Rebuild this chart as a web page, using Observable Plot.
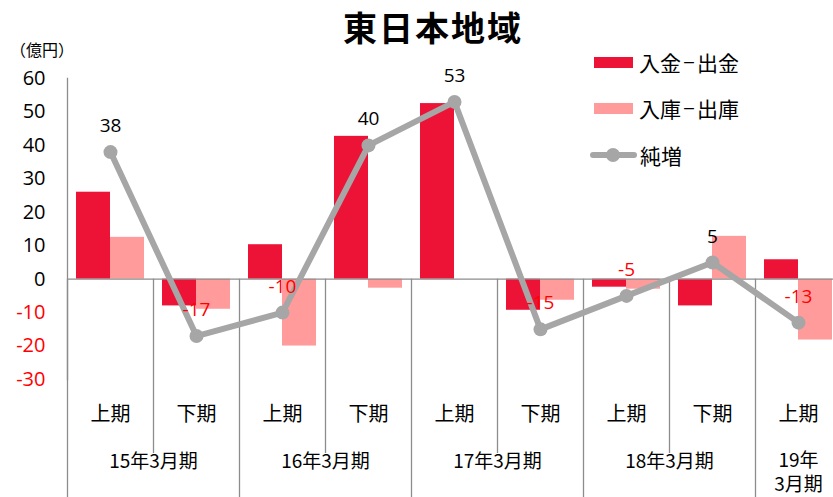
<!DOCTYPE html>
<html><head><meta charset="utf-8">
<script src="https://cdn.jsdelivr.net/npm/d3@7"></script>
<script src="https://cdn.jsdelivr.net/npm/@observablehq/plot@0.6"></script>
<style>
html,body{margin:0;padding:0;background:#fff;overflow:hidden}
#wrap{position:relative;width:833px;height:497px;font-family:"Noto Sans CJK JP","Open Sans",sans-serif;color:#000}
#title{position:absolute;left:328px;top:2px;width:210px;text-align:center;font-size:34px;font-weight:bold;letter-spacing:2px;line-height:50px}
#unit{position:absolute;left:10px;top:38px;font-size:16px;line-height:22px}
.leg{position:absolute;left:590px;font-size:21px;line-height:28px;height:28px;display:flex;align-items:center;white-space:nowrap}
.sw{display:inline-block;width:39px;height:11px;margin-left:4px;margin-right:6px}
.dash{font-family:"Open Sans",sans-serif;margin:0 2px}
#chart{position:absolute;left:0;top:0}
</style>
</head><body>
<div id="wrap">
  <div id="chart"></div>
  <div id="title">東日本地域</div>
  <div id="unit">（億円）</div>
  <div class="leg" style="top:48px"><span class="sw" style="background:#EC1337"></span>入金<span class="dash">−</span>出金</div>
  <div class="leg" style="top:94px"><span class="sw" style="background:#FF9B9B"></span>入庫<span class="dash">−</span>出庫</div>
  <div class="leg" style="top:141px"><svg width="50" height="20"><line x1="3" y1="10" x2="44" y2="10" stroke="#A6A6A6" stroke-width="6" stroke-linecap="round"/><circle cx="23" cy="10" r="7" fill="#A6A6A6"/></svg>純増</div>
</div>
<script>
// data
const ids = ["15H1","15H2","16H1","16H2","17H1","17H2","18H1","18H2","19H1"];
const periods = ["上期","下期","上期","下期","上期","下期","上期","下期","上期"];
const groupLabels = ["15年3月期","16年3月期","17年3月期","18年3月期"];
const groupStarts = [0, 2, 4, 6];
const lastGroupLabel = "19年\n3月期";
const lastGroupStart = 8;
const cash  = [26, -8, 10.3, 42.7, 52.5, -9.3, -2.4, -8, 5.8];     // 入金-出金
const stock = [12.5, -9, -20, -2.7, 0, -6.3, -3, 12.8, -18.2];      // 入庫-出庫
const net   = [38, -17, -10, 40, 53, -15, -5, 5, -13];              // 純増
const yTicks = [-30, -20, -10, 0, 10, 20, 30, 40, 50, 60];

const idx = d3.range(ids.length);
const RED = "#EC1337", PINK = "#FF9B9B", GRAY = "#A6A6A6", AXIS = "#8C8C8C";
const half = 43;

const chart = Plot.plot({
  width: 833,
  height: 497,
  marginLeft: 67,
  marginRight: 0,
  marginTop: 78,
  marginBottom: 118,
  style: {fontFamily: "'Open Sans','Noto Sans CJK JP',sans-serif", fontSize: "20px", background: "transparent"},
  x: {type: "band", domain: ids, range: [67, 841], padding: 0, axis: null},
  y: {domain: [-30, 60], range: [379, 78], axis: null},
  marks: [
    // bars
    Plot.barY(idx, {x: i => ids[i], y: i => cash[i], fill: RED, insetLeft: 9, insetRight: 43}),
    Plot.barY(idx, {x: i => ids[i], y: i => stock[i], fill: PINK, insetLeft: 43, insetRight: 9}),
    // axes
    Plot.frame({anchor: "left", stroke: AXIS, strokeWidth: 1.3}),
    Plot.tickY(yTicks, {y: d => d, x: ids[0], dx: -half, insetLeft: -7, insetRight: 86, stroke: AXIS, strokeWidth: 1.3}),
    Plot.text(yTicks, {y: d => d, text: d => String(d), frameAnchor: "left", dx: -22, textAnchor: "end", fontSize: 20, fill: d => d < 0 ? "#FF0000" : "#000"}),
    Plot.ruleY([0], {stroke: AXIS, strokeWidth: 1.3}),
    // category dividers
    Plot.ruleX([1, 3, 5, 7], {x: i => ids[i], dx: -half, y1: 0, y2: -30, insetBottom: -74, stroke: AXIS, strokeWidth: 1.3}),
    Plot.ruleX([0, 2, 4, 6, 8], {x: i => ids[i], dx: -half, y1: 0, y2: -30, insetBottom: -122, stroke: AXIS, strokeWidth: 1.3}),
    // x labels
    Plot.text(idx, {x: i => ids[i], text: i => periods[i], frameAnchor: "bottom", dy: 35, lineAnchor: "middle", fontSize: 20, fontFamily: "'Noto Sans CJK JP',sans-serif"}),
    Plot.text(groupStarts, {x: (s) => ids[s], text: (s, j) => groupLabels[j], dx: half, frameAnchor: "bottom", dy: 82, lineAnchor: "middle", fontSize: 19, fontFamily: "'Noto Sans CJK JP',sans-serif"}),
    Plot.text([lastGroupStart], {x: s => ids[s], text: () => lastGroupLabel, frameAnchor: "bottom", dy: 70, lineAnchor: "top", lineHeight: 1.28, fontSize: 19, fontFamily: "'Noto Sans CJK JP',sans-serif"}),
    // net line
    Plot.line(idx, {x: i => ids[i], y: i => net[i], stroke: GRAY, strokeWidth: 6}),
    Plot.dot(idx, {x: i => ids[i], y: i => net[i], r: 7, fill: GRAY}),
    Plot.text(idx, {x: i => ids[i], y: i => net[i], text: i => String(net[i]), dy: -26, fontSize: 19, fill: i => net[i] < 0 ? "#FF0000" : "#000"})
  ]
});
document.getElementById("chart").appendChild(chart);
</script>
</body></html>
